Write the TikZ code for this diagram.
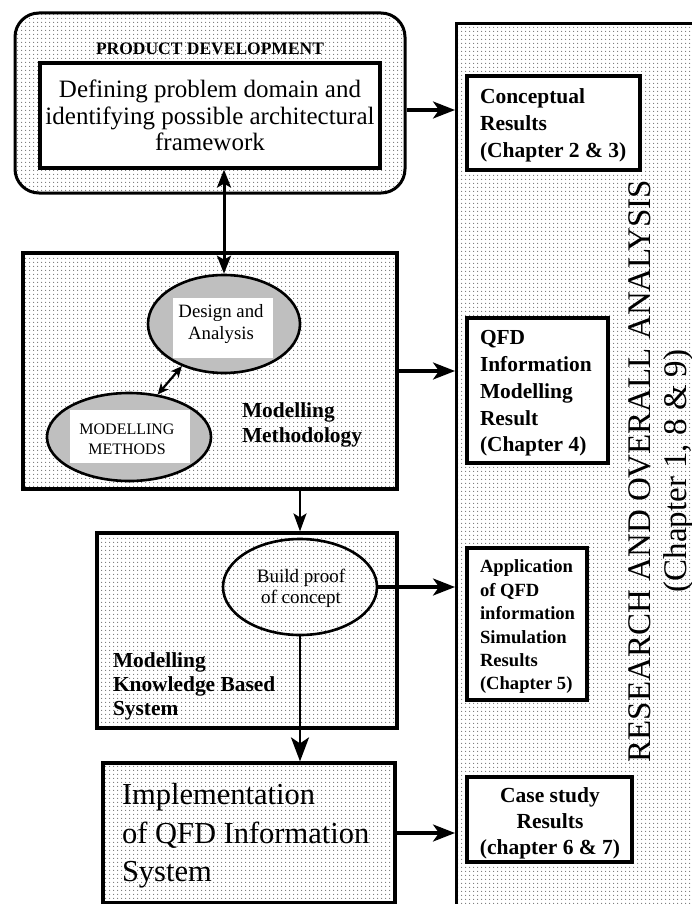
\documentclass[tikz,border=0pt]{standalone}
\usepackage{fontspec}
\setmainfont{Liberation Serif}
\usetikzlibrary{arrows.meta,patterns.meta,shapes.geometric,calc}

% light halftone screen used as the background of the boxes
\tikzdeclarepattern{
  name=screen,
  type=uncolored,
  bottom left={(0pt,0pt)},
  top right={(4pt,4pt)},
  tile size={(4pt,4pt)},
  code={\fill (2pt,2pt) circle (0.7pt);}
}

\newcommand\fsz[2]{\fontsize{#1}{#2}\selectfont}

\begin{document}
\begin{tikzpicture}[x=1pt,y=-1pt,
  screenfill/.style={pattern=screen, pattern color=black!55},
  box/.style={draw, line width=3.2pt},
  oval/.style={ellipse, draw, line width=2.6pt},
  txt/.style={inner sep=0pt, outer sep=0pt},
  arr/.style={line width=3.2pt, -{Stealth[length=22pt,width=17pt,inset=6pt]}},
  downarr/.style={line width=2pt, -{Stealth[length=18pt,width=13pt,inset=4pt]}},
  midarr/.style={line width=2.6pt, -{Stealth[length=24pt,width=18pt,inset=6pt]}},
  bothway/.style={line width=3pt, {Stealth[length=18pt,width=14pt,inset=4pt]}-{Stealth[length=18pt,width=14pt,inset=4pt]}},
  smallboth/.style={line width=2.2pt, {Stealth[length=11pt,width=10pt,inset=3pt]}-{Stealth[length=11pt,width=10pt,inset=3pt]}},
]
\useasboundingbox (0,0) rectangle (692,904);

% research panel on the right (runs past the page edges)
\node[box, screenfill, minimum width=270, minimum height=920, anchor=north west] (panel) at (455,22) {};
\node[txt, rotate=90, anchor=base, font=\fsz{33}{33}] (research) at (650,471) {RESEARCH AND OVERALL ANALYSIS};
\node[txt, rotate=90, anchor=base, font=\fsz{33}{33}] (chapters) at (686,471) {(Chapter 1, 8 \& 9)};

% product development
\node[draw, line width=3pt, rounded corners=24pt, screenfill, minimum width=390, minimum height=180] (pd) at (210,103) {};
\node[txt, anchor=base, font=\fsz{17.5}{20}\bfseries] (pdt) at (210,55) {PRODUCT DEVELOPMENT};
\node[box, fill=white, minimum width=340, minimum height=105, align=center, font=\fsz{25}{26.7}] (def) at (210,115.5)
  {Defining problem domain and\\identifying possible architectural\\framework};

% modelling methodology
\node[box, screenfill, minimum width=374, minimum height=236] (mm) at (210,371) {};
\node[oval, fill=gray!50, minimum width=152, minimum height=98] (da) at (224,324) {};
\node[txt, fill=white, minimum width=100, minimum height=60] (dab) at (223,328) {};
\node[txt, align=center, font=\fsz{18.8}{22}] (dat) at (221,324.5) {Design and\\Analysis};
\node[oval, fill=gray!50, minimum width=164, minimum height=88] (me) at (129,437) {};
\node[txt, fill=white, minimum width=120, minimum height=53] (meb) at (130,436.5) {};
\node[txt, align=center, font=\fsz{16}{20}] (met) at (127,439) {MODELLING\\METHODS};
\node[txt, align=left, anchor=west, font=\fsz{21.4}{24.5}\bfseries] (mmt) at (242,425) {Modelling\\Methodology};

% knowledge based system
\node[box, screenfill, minimum width=300, minimum height=195] (kbs) at (247,630.5) {};
\node[oval, minimum width=154, minimum height=96] (bp) at (300,587) {};
\node[txt, align=center, font=\fsz{19}{21}] (bpt) at (301,588) {Build proof\\of concept};
\node[txt, align=left, anchor=west, font=\fsz{21.4}{24}\bfseries] (kbst) at (113,686) {Modelling\\Knowledge Based\\System};

% implementation
\node[box, screenfill, minimum width=292, minimum height=140] (impl) at (249,833) {};
\node[txt, align=left, anchor=west, font=\fsz{30.5}{38.5}] (implt) at (122,836) {Implementation\\of QFD Information\\System};

% result boxes
\node[box, fill=white, minimum width=173, minimum height=94] (r1) at (553.5,123) {};
\node[txt, align=left, anchor=west, font=\fsz{21.5}{27}\bfseries] (r1t) at (480,125) {Conceptual\\Results\\(Chapter 2 \& 3)};
\node[box, fill=white, minimum width=141, minimum height=145] (r2) at (537.5,390.5) {};
\node[txt, align=left, anchor=west, font=\fsz{21.4}{26.7}\bfseries] (r2t) at (480,393.5) {QFD\\Information\\Modelling\\Result\\(Chapter 4)};
\node[box, fill=white, minimum width=120, minimum height=152] (r3) at (527,624) {};
\node[txt, align=left, anchor=west, font=\fsz{18.6}{23.4}\bfseries] (r3t) at (480,627) {Application\\of QFD\\information\\Simulation\\Results\\(Chapter 5)};
\node[box, fill=white, minimum width=165, minimum height=85] (r4) at (549.5,819.5) {};
\node[txt, align=center, font=\fsz{21.5}{26}\bfseries] (r4t) at (550,823) {Case study\\Results\\(chapter 6 \& 7)};

% connectors
\draw[arr] ($(pd.east)+(0,7)$) -- ($(pd.east -| panel.west)+(0,7)$);
\draw[arr] (mm.east) -- (mm.east -| panel.west);
\draw[arr] (bp.east) -- (bp.east -| panel.west);
\draw[arr] (impl.east) -- (impl.east -| panel.west);
\draw[bothway] (def.south -| da.north) -- (da.north);
\draw[smallboth] (da.225) -- (me.56);
\draw[downarr] (mm.south -| bp.north) -- (kbs.north -| bp.north);
\draw[midarr] (bp.south) -- (impl.north -| bp.south);
\end{tikzpicture}
\end{document}
